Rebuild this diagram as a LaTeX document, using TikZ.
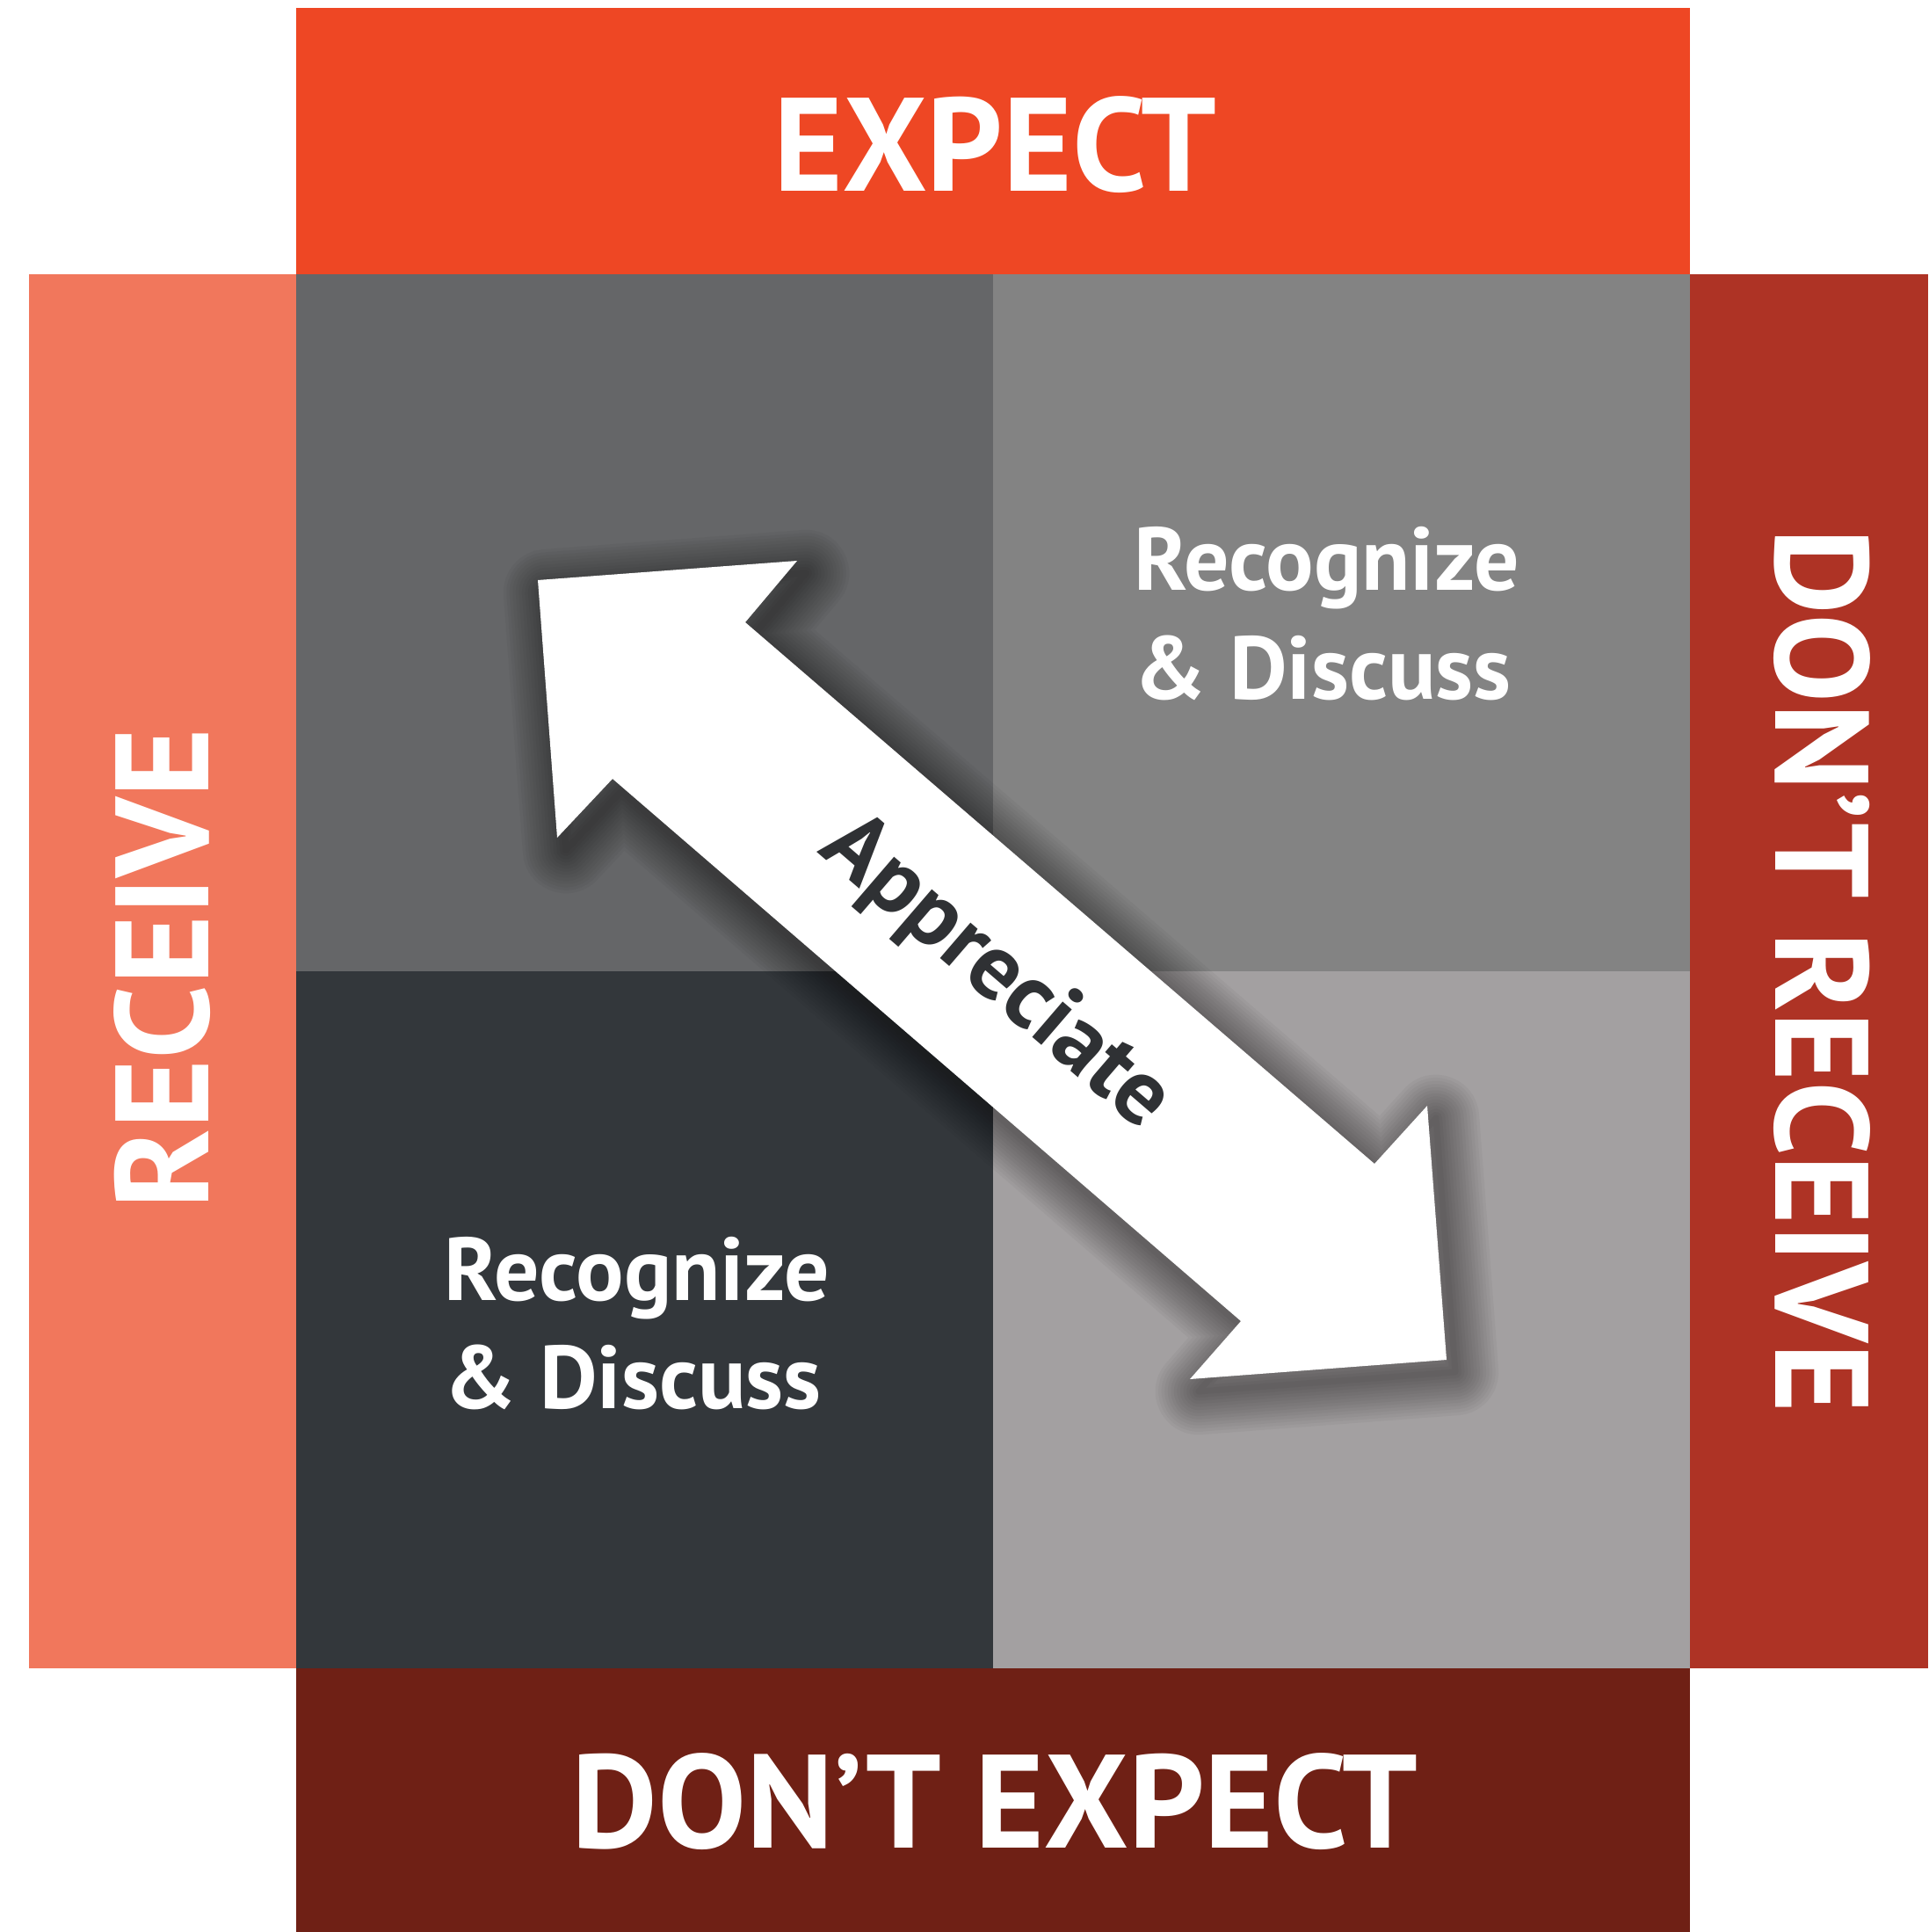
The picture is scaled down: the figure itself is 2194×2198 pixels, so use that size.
\documentclass[tikz,border=0pt]{standalone}
\usepackage{fontspec}
\usepackage{graphicx}
\setmainfont{PT Sans}
\definecolor{cTop}{HTML}{EE4724}
\definecolor{cLeft}{HTML}{F1775C}
\definecolor{cRight}{HTML}{AE3325}
\definecolor{cBot}{HTML}{6F2015}
\definecolor{cTL}{HTML}{656668}
\definecolor{cTR}{HTML}{838383}
\definecolor{cBL}{HTML}{33373B}
\definecolor{cBR}{HTML}{A3A0A1}
\definecolor{cTxt}{HTML}{2F3134}
\newcommand\arrowshape[1]{\path[#1] (612,660) -- (907,638) -- (848,708) -- (1564,1324) -- (1624,1258) -- (1646,1547) -- (1354,1569) -- (1412,1503) -- (697,886) -- (634,953) -- cycle;}
\tikzset{
  hdr/.style={text=white, font=\bfseries\fontsize{43}{50}\selectfont, inner sep=0pt, anchor=center},
  rec/.style={text=white, font=\bfseries\fontsize{27}{32}\selectfont, inner sep=0pt, anchor=base west},
  shade layer/.style={draw=black, draw opacity=0.032, line width=#1, line join=round, shift={(10,14)}}
}
\begin{document}
\begin{tikzpicture}[x=0.01cm,y=-0.01cm]
\useasboundingbox (0,0) rectangle (2194,2198);
\fill[white] (0,0) rectangle (2194,2198);
% side bars
\fill[cTop] (337,9) rectangle (1923,312);
\fill[cLeft] (33,312) rectangle (337,1898);
\fill[cRight] (1923,312) rectangle (2194,1898);
\fill[cBot] (337,1898) rectangle (1923,2198);
% quadrants
\fill[cTL] (337,312) rectangle (1130,1105);
\fill[cTR] (1130,312) rectangle (1923,1105);
\fill[cBL] (337,1105) rectangle (1130,1898);
\fill[cBR] (1130,1105) rectangle (1923,1898);
% soft shadow of the arrow
\foreach \w in {28pt,26pt,24pt,22pt,20pt,18pt,16pt,14pt,12pt,10pt,8pt,6pt,4pt,2pt}{
  \arrowshape{shade layer=\w}
}
% arrow
\arrowshape{fill=white}
% labels
\node[hdr] (expect) at (1132,165) {EXPECT};
\node[hdr] (dexpect) at (1132,2050) {DON’T EXPECT};
\node[hdr, rotate=90] (receive) at (185,1102) {RECEIVE};
\node[hdr, rotate=-90] (dreceive) at (2073,1104) {DON’T RECEIVE};
\node[rec] (rtA) at (1290,672) {\scalebox{1.07}{Recognize}};
\node[rec] (rtB) at (1290,795) {\scalebox{1.07}{\& Discuss}};
\node[rec] (blA) at (505,1479) {\scalebox{1.07}{Recognize}};
\node[rec] (blB) at (505,1602) {\scalebox{1.07}{\& Discuss}};
\node[text=cTxt, font=\bfseries\fontsize{27}{32}\selectfont, inner sep=0pt, rotate=-40.7] (appr) at (1132,1108) {\scalebox{1.12}{Appreciate}};
\end{tikzpicture}
\end{document}
